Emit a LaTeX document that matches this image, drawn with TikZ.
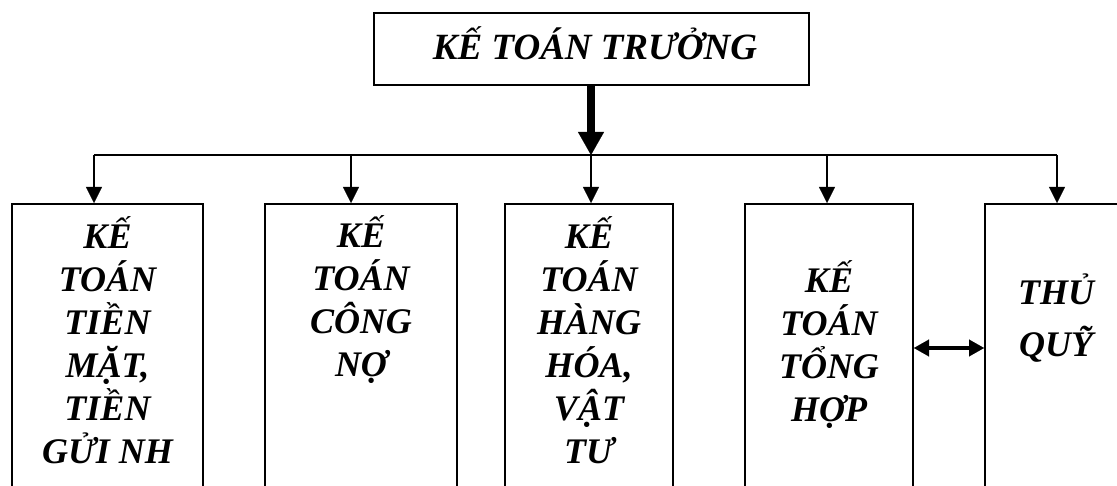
\documentclass[tikz,border=0pt]{standalone}
\usepackage{fontspec}
\setmainfont{Liberation Serif}
\usetikzlibrary{arrows.meta}
\begin{document}
\begin{tikzpicture}[x=1pt,y=-1pt,
  box/.style={draw, line width=2pt, minimum width=#1, minimum height=330pt, anchor=north, inner sep=0pt},
  lbl/.style={font=\fontsize{36}{43}\selectfont\bfseries\itshape, align=center, anchor=base, inner sep=0pt},
  thinline/.style={line width=2pt},
  tip/.style={-{Triangle[length=16pt,width=16pt,line width=0.1pt]}}]
\clip (0,0) rectangle (1117,486);
\fill[white] (0,0) rectangle (1117,486);
% top box
\node[draw, line width=2pt, minimum width=435pt, minimum height=72pt, inner sep=0pt] (top) at (591,49) {};
\node[lbl, font=\fontsize{37}{43}\selectfont\bfseries\itshape] (toptext) at (595,60) {KẾ TOÁN TRƯỞNG};
% bottom boxes
\node[box=191pt] (b1) at (107.5,203) {};
\node[box=192pt] (b2) at (361,203) {};
\node[box=168pt] (b3) at (589,203) {};
\node[box=168pt] (b4) at (829,203) {};
\node[box=144pt] (b5) at (1057,203) {};
% texts (anchor base = baseline of last line)
\node[lbl] (t1) at (107.5,463) {KẾ\\TOÁN\\TIỀN\\MẶT,\\TIỀN\\GỬI NH};
\node[lbl] (t2) at (361,377) {KẾ\\TOÁN\\CÔNG\\NỢ};
\node[lbl] (t3) at (589,463) {KẾ\\TOÁN\\HÀNG\\HÓA,\\VẬT\\TƯ};
\node[lbl] (t4) at (829,421) {KẾ\\TOÁN\\TỔNG\\HỢP};
\node[lbl, font=\fontsize{36}{52}\selectfont\bfseries\itshape] (t5) at (1056,357) {THỦ\\QUỸ};
% bus
\coordinate (busL) at (94,155);
\coordinate (bus2) at (351,155);
\coordinate (bus3) at (591,155);
\coordinate (bus4) at (827,155);
\coordinate (busR) at (1057,155);
\draw[thinline] (busL) -- (busR);
\draw[thinline, tip] (busL) -- (busL |- b1.north);
\draw[thinline, tip] (bus2) -- (bus2 |- b2.north);
\draw[thinline, tip] (bus3) -- (bus3 |- b3.north);
\draw[thinline, tip] (bus4) -- (bus4 |- b4.north);
\draw[thinline, tip] (busR) -- (busR |- b5.north);
% thick arrow
\draw[line width=8pt, -{Triangle[length=23pt,width=26pt,line width=0.1pt]}] (top.south) -- (bus3);
% double arrow
\draw[line width=4pt, {Triangle[length=15pt,width=17pt,line width=0.1pt]}-{Triangle[length=15pt,width=17pt,line width=0.1pt]}] (b4.east |- 0,348) -- (b5.west |- 0,348);
\end{tikzpicture}
\end{document}
